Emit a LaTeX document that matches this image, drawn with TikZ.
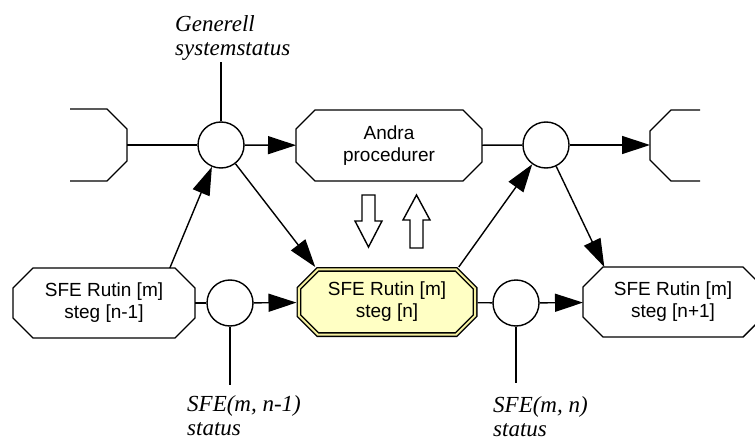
\documentclass[tikz,border=0pt]{standalone}
\usepackage{fontspec}
\setmainfont{Liberation Serif}
\setsansfont{Liberation Sans}
\usetikzlibrary{arrows.meta,calc,backgrounds}
\definecolor{boxyellow}{RGB}{255,255,196}
\definecolor{rimyellow}{RGB}{245,240,160}
\tikzset{
  ln/.style={line width=1.4pt, draw=black},
  arr/.style={ln, -{Triangle[length=28pt,width=18pt]}},
  octbox/.style={rectangle, inner sep=0pt, outer sep=0pt,
    minimum width=182pt, minimum height=70pt, align=center,
    font=\sffamily\fontsize{19}{22}\selectfont},
  junct/.style={circle, draw, line width=1.4pt, minimum size=46pt, inner sep=0pt, fill=white},
  lbl/.style={font=\itshape\fontsize{23}{24}\selectfont, align=left, inner sep=0pt, anchor=north west},
  blockarrow/.style={line width=1.4pt, draw=black, fill=white, line join=miter}
}
% octagon drawn round a named rectangle node: #1 options, #2 node, #3 inset, #4 chamfer
\newcommand{\drawoctagon}[4][]{%
  \draw[ln,#1] ($(#2.north west)+(#3+#4,#3)$) -- ($(#2.north east)+(-#3-#4,#3)$)
    -- ($(#2.north east)+(-#3,#3+#4)$) -- ($(#2.south east)+(-#3,-#3-#4)$)
    -- ($(#2.south east)+(-#3-#4,-#3)$) -- ($(#2.south west)+(#3+#4,-#3)$)
    -- ($(#2.south west)+(#3,-#3-#4)$) -- ($(#2.north west)+(#3,#3+#4)$) -- cycle;}
\begin{document}
\begin{tikzpicture}[x=1pt,y=-1pt]
\useasboundingbox (0,0) rectangle (755,441);

% partial octagons at the edges
\draw[ln] (70,109) -- (107,109) -- (127,129) -- (127,161) -- (107,181) -- (70,181);
\draw[ln] (700,110) -- (671,110) -- (650,131) -- (650,160) -- (671,181) -- (700,181);
\coordinate (lp) at (127,145);
\coordinate (rp) at (650,145);

% nodes
\node[octbox, minimum width=186pt, minimum height=71pt] (ap) at (389,145.5) {Andra\\procedurer};
\node[junct] (c1) at (221,145) {};
\node[junct] (c2) at (546,145) {};
\node[junct] (c3) at (230,303) {};
\node[junct] (c4) at (516,303) {};
\node[octbox] (nm1) at (104,303) {SFE Rutin [m]\\steg [n-1]};
\node[octbox, minimum width=181pt] (sc) at (387,302) {SFE Rutin [m]\\steg [n]};
\node[octbox, minimum width=180pt] (rb) at (673,302) {SFE Rutin [m]\\steg [n+1]};

\drawoctagon{ap}{0}{19}
\drawoctagon{nm1}{0}{20}
\drawoctagon{rb}{0}{20}
\begin{pgfonlayer}{background}
\drawoctagon[fill=boxyellow, double=rimyellow, double distance=2pt]{sc}{2.4}{19}
\end{pgfonlayer}

% labels
\node[lbl] (gl) at (175,15) {Generell\\systemstatus};
\node[lbl] (l3) at (187,395) {SFE(m, n-1)\\status};
\node[lbl] (l4) at (493,396) {SFE(m, n)\\status};
\coordinate (g) at (221,62);
\coordinate (s3) at (230,385);
\coordinate (s4) at (516,383);

% connectors
\draw[ln] (lp) -- (c1);
\draw[arr] (c1) -- (ap);
\draw[ln] (ap) -- (c2);
\draw[arr] (c2) -- (rp);
\draw[arr] (nm1.28) -- (c1);
\draw[arr] (c1) -- (sc.154);
\draw[arr] (sc.26) -- (c2);
\draw[arr] (c2) -- (rb.153);
\draw[ln] (nm1) -- (c3);
\draw[arr] (c3) -- (sc);
\draw[ln] (sc) -- (c4);
\draw[arr] (c4) -- (rb);
\draw[ln] (c1) -- (g);
\draw[ln] (c3) -- (s3);
\draw[ln] (c4) -- (s4);

% block arrows
\draw[blockarrow] (362,195) -- (375,195) -- (375,221) -- (382,221) -- (368.5,247) -- (355,221) -- (362,221) -- cycle;
\draw[blockarrow] (416.5,195) -- (430,220) -- (423,220) -- (423,248) -- (410,248) -- (410,220) -- (403,220) -- cycle;
\end{tikzpicture}
\end{document}
